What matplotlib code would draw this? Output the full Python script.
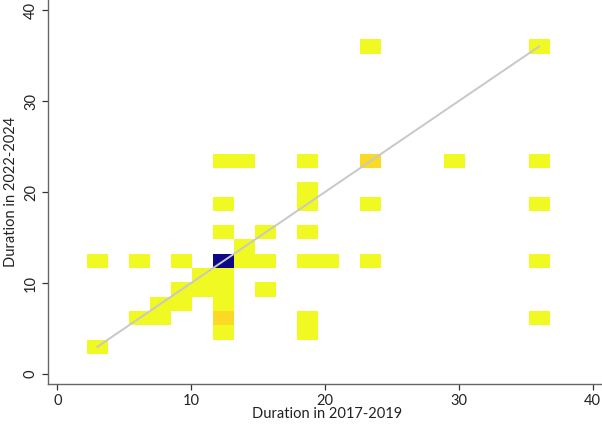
import numpy as np
import matplotlib.pyplot as plt

# cells: duration in 2017-2019 (x), duration in 2022-2024 (y), number of cases
dur_1719 = [3, 12, 18, 6, 8, 12, 18, 36, 8, 9, 12, 9, 11, 12, 15, 11, 12,
            3, 6, 9, 12, 14, 15, 18, 20, 24, 36, 14, 12, 15, 18,
            12, 18, 18, 24, 36, 12, 14, 18, 24, 30, 36, 24, 36]
dur_2224 = [3, 5, 5, 6, 6, 6, 6, 6, 8, 8, 8, 9, 9, 9, 9, 11, 11,
            12, 12, 12, 12, 12, 12, 12, 12, 12, 12, 14, 15, 15, 15,
            18, 18, 20, 18, 18, 24, 24, 24, 24, 24, 24, 36, 36]
n_cases = [1, 1, 1, 1, 1, 2, 1, 1, 1, 1, 1, 1, 1, 1, 1, 1, 1,
           1, 1, 1, 15, 1, 1, 1, 1, 1, 1, 1, 1, 1, 1,
           1, 1, 1, 1, 1, 1, 1, 1, 2, 1, 1, 1, 1]

x = np.array(dur_1719, dtype=float)
y = np.array(dur_2224, dtype=float)
w = np.array(n_cases, dtype=float)

lo = min(x.min(), y.min())
hi = max(x.max(), y.max())
nbins = 22
step = (hi - lo) / (nbins - 1)
edges = np.linspace(lo - step / 2, hi + step / 2, nbins + 1)

H, xe, ye = np.histogram2d(x, y, bins=[edges, edges], weights=w)
H = np.ma.masked_equal(H.T, 0)

plt.rcParams['font.family'] = ['Lato', 'DejaVu Sans']
plt.rcParams['font.size'] = 10.5

fig = plt.figure(figsize=(6.02, 4.24), dpi=100)
ax = fig.add_axes([0.0792, 0.0943, 0.9208, 0.9057])

ax.pcolormesh(xe, ye, H, cmap='plasma_r', vmin=1, vmax=15, antialiased=True)
ax.plot([lo, hi], [lo, hi], color='#c8c8c8', linewidth=1.4, zorder=3)

ax.set_xlim(-0.72, 40.7)
ax.set_ylim(-1.1, 41.1)
ax.set_xticks([0, 10, 20, 30, 40])
ax.set_yticks([0, 10, 20, 30, 40])
for lab in ax.get_yticklabels():
    lab.set_rotation(90)
    lab.set_va('center')

for s in ['top', 'right']:
    ax.spines[s].set_visible(False)
for s in ['left', 'bottom']:
    ax.spines[s].set_color('#666666')
    ax.spines[s].set_linewidth(1.0)
ax.tick_params(direction='out', length=4, width=0.9, color='#333333',
               labelcolor='#222222', labelsize=10.5, pad=3)

ax.set_xlabel('Duration in 2017-2019', color='#222222')
ax.set_ylabel('Duration in 2022-2024', color='#222222')
ax.xaxis.set_label_coords(0.504, -0.06)
ax.yaxis.set_label_coords(-0.053, 0.5)

plt.savefig('out.png', dpi=100)
plt.close()
